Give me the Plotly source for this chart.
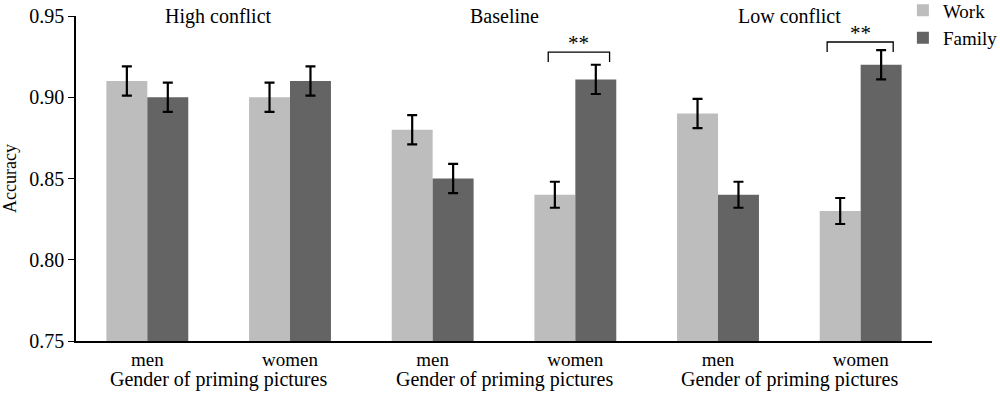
import plotly.graph_objects as go

conditions = ["High conflict", "Baseline", "Low conflict"]
genders = ["men", "women", "men", "women", "men", "women"]
work = [0.91, 0.90, 0.88, 0.84, 0.89, 0.83]
family = [0.90, 0.91, 0.85, 0.911, 0.84, 0.92]
work_err = [0.009, 0.009, 0.009, 0.008, 0.009, 0.008]
family_err = [0.009, 0.009, 0.009, 0.009, 0.008, 0.009]
xlabel = "Gender of priming pictures"

FONT = "Liberation Serif"
LIGHT = "#BDBDBD"
DARK = "#646464"

x = list(range(len(genders)))

fig = go.Figure()
fig.add_trace(go.Bar(
    x=x, y=work, name="Work", marker=dict(color=LIGHT, line=dict(width=0)),
    error_y=dict(type="data", array=work_err, color="black", thickness=2.2, width=5),
))
fig.add_trace(go.Bar(
    x=x, y=family, name="Family", marker=dict(color=DARK, line=dict(width=0)),
    error_y=dict(type="data", array=family_err, color="black", thickness=2.2, width=5),
))

annotations = []
for i, c in enumerate(conditions):
    annotations.append(dict(x=2 * i + 0.5, y=0.95, xref="x", yref="y", text=c,
                            showarrow=False, yanchor="middle",
                            font=dict(family=FONT, size=20, color="black")))
    annotations.append(dict(x=2 * i + 0.5, y=-0.077, xref="x", yref="paper", text=xlabel,
                            showarrow=False, yanchor="top",
                            font=dict(family=FONT, size=20, color="black")))

shapes = []
brackets = [(2.81, 3.24, 0.9278, 0.9217), (4.765, 5.228, 0.9340, 0.9278)]
for x0, x1, ytop, ybot in brackets:
    shapes.append(dict(type="path", xref="x", yref="y",
                       path=f"M {x0},{ybot} L {x0},{ytop} L {x1},{ytop} L {x1},{ybot}",
                       line=dict(color="black", width=1.3)))
    annotations.append(dict(x=(x0 + x1) / 2, y=ytop + 0.0055, xref="x", yref="y", text="**",
                            showarrow=False, yanchor="middle",
                            font=dict(family=FONT, size=21, color="black")))

fig.update_layout(
    width=1000, height=393,
    margin=dict(l=76, r=68, t=16, b=52, autoexpand=False),
    paper_bgcolor="white", plot_bgcolor="white",
    barmode="group", bargap=0.426, bargroupgap=0,
    font=dict(family=FONT, size=19, color="black"),
    showlegend=True,
    legend=dict(x=0.966, y=1.076, xanchor="left", yanchor="top",
                font=dict(family=FONT, size=19, color="black"),
                bgcolor="rgba(0,0,0,0)", tracegroupgap=0, borderwidth=0),
    annotations=annotations, shapes=shapes,
)
fig.update_xaxes(range=[-0.5, 5.5], tickvals=x, ticktext=genders, showline=True,
                 linecolor="black", linewidth=1.5, ticks="", showgrid=False,
                 zeroline=False, tickfont=dict(family=FONT, size=19), automargin=False)
fig.update_yaxes(range=[0.75, 0.95], dtick=0.05, tickformat=".2f", showline=True,
                 linecolor="black", linewidth=1.5, ticks="outside", ticklen=6,
                 tickcolor="black", showgrid=False, zeroline=False, automargin=False,
                 title=dict(text="Accuracy", font=dict(family=FONT, size=18), standoff=8),
                 tickfont=dict(family=FONT, size=20))

fig.write_html("out.html", config={"displayModeBar": False},
               post_script="document.body.style.margin='0';")
